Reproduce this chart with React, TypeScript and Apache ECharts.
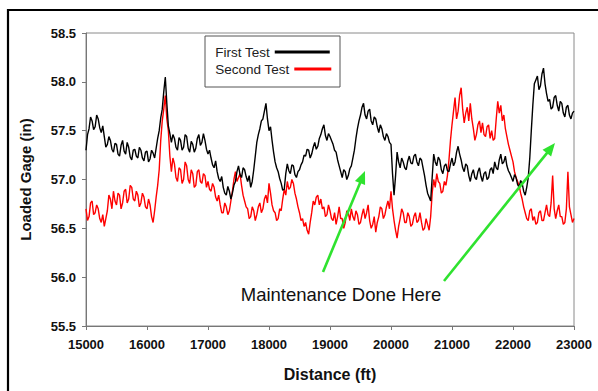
import React, { useEffect, useRef } from "react";
import * as echarts from "echarts";

const DIST_START = 15000;
const DIST_STEP = 25;

const xTickLabels = ["15000", "16000", "17000", "18000", "19000", "20000", "21000", "22000", "23000"];
const yTickLabels = ["55.5", "56.0", "56.5", "57.0", "57.5", "58.0", "58.5"];

const seriesNames = ["First Test", "Second Test"];

// First Test, one value every 25 ft from 15000 ft
const firstTest = [
  57.30, 57.46, 57.52, 57.64, 57.60, 57.51, 57.54, 57.66, 57.62, 57.53,
  57.48, 57.55, 57.44, 57.33, 57.36, 57.44, 57.40, 57.31, 57.28, 57.37,
  57.36, 57.26, 57.24, 57.35, 57.40, 57.29, 57.26, 57.38, 57.33, 57.23,
  57.20, 57.30, 57.31, 57.24, 57.22, 57.33, 57.30, 57.22, 57.19, 57.28,
  57.29, 57.18, 57.21, 57.30, 57.27, 57.22, 57.32, 57.42, 57.50, 57.63,
  57.72, 57.90, 58.05, 57.78, 57.55, 57.47, 57.38, 57.46, 57.42, 57.33,
  57.30, 57.43, 57.40, 57.30, 57.33, 57.46, 57.44, 57.32, 57.28, 57.39,
  57.36, 57.28, 57.32, 57.42, 57.46, 57.35, 57.38, 57.47, 57.40, 57.31,
  57.26, 57.30, 57.22, 57.15, 57.12, 57.19, 57.08, 57.01, 56.98, 57.03,
  56.92, 56.86, 56.84, 56.93, 56.88, 56.80, 56.86, 56.94, 56.98, 57.08,
  57.14, 57.05, 57.02, 57.12, 57.10, 57.03, 56.98, 57.04, 56.92, 56.98,
  57.10, 57.24, 57.38, 57.46, 57.52, 57.60, 57.62, 57.70, 57.78, 57.62,
  57.50, 57.54, 57.40, 57.28, 57.18, 57.12, 57.08, 57.01, 56.96, 56.89,
  56.90, 57.06, 57.16, 57.09, 57.06, 57.15, 57.14, 57.05, 57.02, 57.08,
  57.10, 57.15, 57.18, 57.25, 57.24, 57.31, 57.30, 57.22, 57.26, 57.33,
  57.38, 57.31, 57.34, 57.42, 57.46, 57.52, 57.56, 57.45, 57.40, 57.47,
  57.44, 57.40, 57.36, 57.30, 57.28, 57.20, 57.14, 57.08, 57.02, 57.10,
  57.08, 57.00, 57.04, 57.11, 57.14, 57.22, 57.30, 57.42, 57.52, 57.60,
  57.66, 57.74, 57.78, 57.66, 57.62, 57.70, 57.72, 57.60, 57.56, 57.64,
  57.62, 57.54, 57.48, 57.56, 57.52, 57.44, 57.40, 57.47, 57.44, 57.38,
  57.36, 57.06, 56.84, 57.04, 57.28, 57.18, 57.12, 57.22, 57.18, 57.12,
  57.10, 57.19, 57.24, 57.17, 57.16, 57.24, 57.26, 57.18, 57.14, 57.22,
  57.20, 57.12, 57.04, 56.94, 56.86, 56.82, 56.78, 57.02, 57.26, 57.18,
  57.14, 57.23, 57.20, 57.10, 57.06, 57.14, 57.16, 57.09, 57.08, 57.16,
  57.22, 57.14, 57.18, 57.28, 57.34, 57.26, 57.20, 57.12, 57.08, 57.16,
  57.14, 57.04, 56.98, 57.06, 57.10, 57.02, 57.00, 57.08, 57.12, 57.03,
  56.98, 57.06, 57.08, 57.00, 57.02, 57.10, 57.12, 57.06, 57.18, 57.12,
  57.10, 57.20, 57.26, 57.16, 57.18, 57.24, 57.14, 57.09, 57.06, 57.02,
  56.98, 57.05, 57.02, 56.95, 56.92, 56.99, 56.96, 56.88, 56.84, 56.92,
  57.02, 57.22, 57.50, 57.76, 57.98, 58.02, 58.06, 57.92, 57.96, 58.08,
  58.14, 57.98, 57.88, 57.80, 57.82, 57.72, 57.74, 57.84, 57.86, 57.76,
  57.70, 57.80, 57.78, 57.68, 57.64, 57.74, 57.76, 57.66, 57.62, 57.68,
  57.70,
];

// Second Test, one value every 25 ft from 15000 ft
const secondTest = [
  56.70, 56.58, 56.62, 56.76, 56.78, 56.64, 56.66, 56.74, 56.70, 56.60,
  56.56, 56.64, 56.52, 56.60, 56.68, 56.84, 56.80, 56.70, 56.88, 56.78,
  56.74, 56.86, 56.84, 56.70, 56.76, 56.88, 56.90, 56.76, 56.80, 56.94,
  56.92, 56.80, 56.78, 56.88, 56.84, 56.72, 56.76, 56.86, 56.82, 56.72,
  56.70, 56.80, 56.74, 56.62, 56.56, 56.68, 56.82, 56.94, 57.10, 57.40,
  57.60, 57.72, 57.86, 57.62, 57.50, 57.24, 57.08, 57.22, 57.16, 57.02,
  56.98, 57.12, 57.10, 56.96, 57.00, 57.18, 57.14, 57.00, 56.96, 57.10,
  57.06, 56.92, 56.94, 57.08, 57.10, 56.98, 56.96, 57.06, 57.04, 56.92,
  56.98, 56.90, 56.88, 56.96, 56.92, 56.82, 56.78, 56.84, 56.74, 56.66,
  56.66, 56.76, 56.72, 56.64, 56.68, 56.78, 56.88, 57.00, 57.08, 56.98,
  57.02, 57.06, 56.94, 56.84, 56.78, 56.72, 56.70, 56.60, 56.62, 56.72,
  56.68, 56.58, 56.64, 56.72, 56.76, 56.66, 56.70, 56.80, 56.84, 56.76,
  56.96, 56.86, 56.74, 56.68, 56.66, 56.58, 56.60, 56.70, 56.68, 56.80,
  56.90, 56.84, 56.98, 56.90, 56.92, 57.00, 56.96, 56.86, 56.80, 56.72,
  56.66, 56.58, 56.60, 56.52, 56.56, 56.48, 56.44, 56.56, 56.66, 56.78,
  56.74, 56.82, 56.84, 56.74, 56.80, 56.70, 56.72, 56.62, 56.64, 56.74,
  56.68, 56.60, 56.58, 56.66, 56.54, 56.62, 56.72, 56.60, 56.60, 56.50,
  56.56, 56.68, 56.66, 56.58, 56.70, 56.62, 56.58, 56.68, 56.64, 56.54,
  56.56, 56.64, 56.70, 56.60, 56.66, 56.74, 56.58, 56.50, 56.54, 56.62,
  56.46, 56.56, 56.62, 56.72, 56.70, 56.60, 56.64, 56.72, 56.78, 56.70,
  56.88, 56.70, 56.58, 56.48, 56.40, 56.52, 56.60, 56.70, 56.66, 56.56,
  56.56, 56.66, 56.62, 56.52, 56.54, 56.62, 56.66, 56.56, 56.58, 56.66,
  56.56, 56.48, 56.50, 56.60, 56.54, 56.48, 56.62, 56.86, 57.00, 56.92,
  57.06, 56.98, 56.96, 56.86, 56.88, 56.98, 56.94, 57.04, 57.20, 57.40,
  57.56, 57.70, 57.84, 57.62, 57.70, 57.86, 57.94, 57.72, 57.58, 57.68,
  57.74, 57.60, 57.78, 57.62, 57.52, 57.40, 57.46, 57.56, 57.60, 57.48,
  57.58, 57.46, 57.44, 57.54, 57.56, 57.42, 57.50, 57.40, 57.42, 57.62,
  57.80, 57.68, 57.76, 57.60, 57.66, 57.52, 57.44, 57.36, 57.30, 57.24,
  57.18, 57.08, 57.02, 56.98, 56.94, 56.86, 56.80, 56.72, 56.66, 56.60,
  56.58, 56.68, 56.70, 56.58, 56.62, 56.54, 56.56, 56.66, 56.68, 56.58,
  56.58, 56.66, 56.74, 56.64, 56.62, 56.76, 57.04, 56.70, 56.60, 56.68,
  56.74, 56.62, 56.62, 56.54, 56.56, 56.70, 57.08, 56.72, 56.64, 56.56,
  56.60,
];

const annotationText = "Maintenance Done Here";

const FONT = "'Liberation Sans', Arial, Helvetica, sans-serif";
const GREEN = "#2fe22f";

// arrows: [fromX, fromY, toX, toY] in page pixels
const arrows = [
  [323, 272, 365, 171],
  [444, 281, 555, 143],
];

function arrowGraphics(a: number[]) {
  const [x1, y1, x2, y2] = a;
  const dx = x2 - x1;
  const dy = y2 - y1;
  const len = Math.sqrt(dx * dx + dy * dy);
  const ux = dx / len;
  const uy = dy / len;
  const headLen = 13;
  const headHalf = 5.5;
  const bx = x2 - ux * headLen;
  const by = y2 - uy * headLen;
  const px = -uy;
  const py = ux;
  return [
    {
      type: "line",
      z: 20,
      shape: { x1, y1, x2: bx + ux * 2, y2: by + uy * 2 },
      style: { stroke: GREEN, lineWidth: 2.6 },
    },
    {
      type: "polygon",
      z: 20,
      shape: {
        points: [
          [x2, y2],
          [bx + px * headHalf, by + py * headHalf],
          [bx - px * headHalf, by - py * headHalf],
        ],
      },
      style: { fill: GREEN },
    },
  ];
}

export default function App() {
  const ref = useRef<HTMLDivElement>(null);
  useEffect(() => {
    if (!ref.current) return;
    const chart = echarts.init(ref.current, null, { renderer: "svg" });
    const toPairs = (arr: number[]) => arr.map((v, i) => [DIST_START + i * DIST_STEP, v]);
    const option: any = {
      animation: false,
      backgroundColor: "#fff",
      grid: {
        left: 86,
        right: 24,
        top: 33,
        bottom: 65,
        show: true,
        borderColor: "#8a8a8a",
        borderWidth: 1,
        backgroundColor: "transparent",
      },
      legend: [
        {
          data: [seriesNames[0]],
          left: 215,
          top: 45,
          padding: 0,
          align: "right",
          icon: "rect",
          itemWidth: 55,
          itemHeight: 3,
          selectedMode: false,
          textStyle: { fontFamily: FONT, fontSize: 13.5, color: "#222" },
          z: 30,
        },
        {
          data: [seriesNames[1]],
          left: 215,
          top: 62,
          padding: 0,
          align: "right",
          icon: "rect",
          itemWidth: 37,
          itemHeight: 3,
          selectedMode: false,
          textStyle: { fontFamily: FONT, fontSize: 13.5, color: "#222" },
          z: 30,
        },
      ],
      xAxis: {
        type: "value",
        min: 15000,
        max: 23000,
        interval: 1000,
        name: "Distance (ft)",
        nameLocation: "middle",
        nameGap: 40,
        nameTextStyle: { fontFamily: FONT, fontSize: 16, fontWeight: "bold", color: "#111" },
        axisLine: { show: true, lineStyle: { color: "#777", width: 1 } },
        axisTick: { show: true, inside: false, length: 4, lineStyle: { color: "#777" } },
        axisLabel: {
          margin: 12,
          fontFamily: FONT,
          fontSize: 13,
          fontWeight: "bold",
          color: "#111",
          formatter: (v: number) => xTickLabels[Math.round((v - 15000) / 1000)] ?? "",
        },
        splitLine: { show: false },
      },
      yAxis: {
        type: "value",
        min: 55.5,
        max: 58.5,
        interval: 0.5,
        name: "Loaded Gage (in)",
        nameLocation: "middle",
        nameGap: 53,
        nameTextStyle: { fontFamily: FONT, fontSize: 15, fontWeight: "bold", color: "#111" },
        axisLine: { show: true, lineStyle: { color: "#777", width: 1 } },
        axisTick: { show: true, inside: false, length: 4, lineStyle: { color: "#777" } },
        axisLabel: {
          margin: 10,
          fontFamily: FONT,
          fontSize: 13,
          fontWeight: "bold",
          color: "#111",
          formatter: (v: number) => yTickLabels[Math.round((v - 55.5) / 0.5)] ?? "",
        },
        splitLine: { show: false },
      },
      series: [
        {
          name: seriesNames[1],
          type: "line",
          data: toPairs(secondTest),
          showSymbol: false,
          symbol: "none",
          color: "#ff0000",
          lineStyle: { color: "#ff0000", width: 1.4 },
          z: 2,
        },
        {
          name: seriesNames[0],
          type: "line",
          data: toPairs(firstTest),
          showSymbol: false,
          symbol: "none",
          color: "#000000",
          lineStyle: { color: "#000000", width: 1.4 },
          z: 3,
        },
      ],
      graphic: [
        {
          type: "rect",
          z: 0,
          silent: true,
          shape: { x: 8, y: 10, width: 620, height: 420 },
          style: { fill: "none", stroke: "#000", lineWidth: 2.2 },
        },
        {
          type: "rect",
          z: 25,
          silent: true,
          shape: { x: 205, y: 36, width: 135, height: 51 },
          style: { fill: "#fff", stroke: "#555", lineWidth: 1 },
        },
        {
          type: "text",
          z: 20,
          x: 341,
          y: 294,
          style: {
            text: annotationText,
            fontFamily: FONT,
            fontSize: 18.5,
            fill: "#111",
            align: "center",
            verticalAlign: "middle",
          },
        },
        ...arrows.flatMap(arrowGraphics),
      ],
    };
    chart.setOption(option);
    return () => chart.dispose();
  }, []);
  return (
    <div
      ref={ref}
      style={{ position: "fixed", left: 0, top: 0, width: 598, height: 391 }}
    />
  );
}
